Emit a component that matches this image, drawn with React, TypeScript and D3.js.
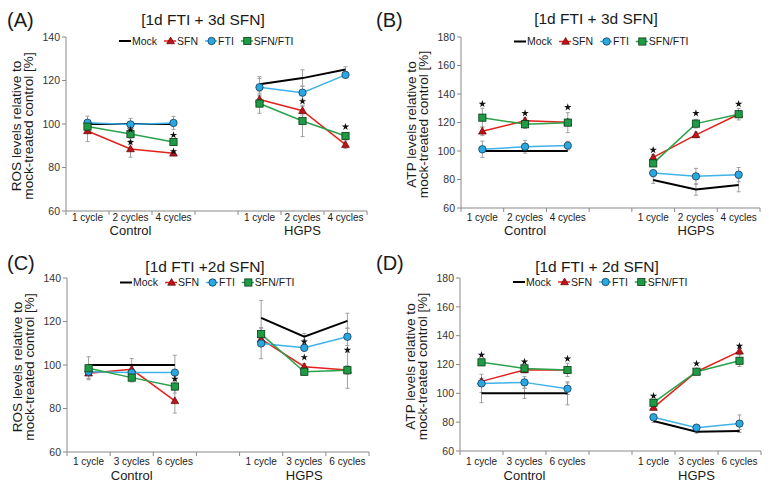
import React from "react";
import * as d3 from "d3";

// ---------- data ----------
const groups = ["Control", "HGPS"];
const cyclesAB = ["1 cycle", "2 cycles", "4 cycles"];
const cyclesCD = ["1 cycle", "3 cycles", "6 cycles"];
const seriesNames = ["Mock", "SFN", "FTI", "SFN/FTI"];
const titles = ["[1d FTI + 3d SFN]", "[1d FTI + 3d SFN]", "[1d FTI +2d SFN]", "[1d FTI + 2d SFN]"];
const panelLabels = ["(A)", "(B)", "(C)", "(D)"];
const yTitleROS = ["ROS levels relative to", "mock-treated control [%]"];
const yTitleATP = ["ATP levels relative to", "mock-treated control [%]"];
const yTicksROS = [60, 80, 100, 120, 140];
const yTicksATP = [60, 80, 100, 120, 140, 160, 180];

// values: Control (3 points) then HGPS (3 points)
const A_mock = [100, 100, 100, 118.3, 121.1, 125.1];
const A_sfn = [96.8, 88.5, 86.5, 111.3, 106.1, 90.5];
const A_fti = [100.6, 99.8, 100.5, 116.9, 114.4, 122.6];
const A_combo = [98.8, 95.4, 91.7, 109.4, 101.4, 94.5];
const A_mock_err = [0, 0, 0, 3.5, 3.8, 1.2];
const A_sfn_err = [4.9, 3.8, 1, 2, 2, 1.7];
const A_fti_err = [3, 2.8, 3, 4, 3, 1.5];
const A_combo_err = [2.5, 2, 1.5, 4.5, 7.2, 1.5];
const A_stars = [[1, 97.4], [1, 91.6], [2, 94.9], [2, 87.4], [4, 110.4], [5, 98.7]];

const B_mock = [100, 100, 100, 79.6, 73, 76.1];
const B_sfn = [113.8, 121.3, 120.2, 95.5, 111.3, 125.8];
const B_fti = [101.2, 103, 103.8, 84.5, 82.2, 83.4];
const B_combo = [123.4, 118.8, 119.9, 91.3, 119.2, 125.8];
const B_mock_err = [0, 0, 0, 2.3, 4, 4.7];
const B_sfn_err = [3, 2, 2, 2, 2, 2];
const B_fti_err = [5.7, 4.5, 3, 2, 5.6, 5];
const B_combo_err = [6.6, 3, 7, 2, 3, 4];
const B_stars = [[0, 133], [1, 126.5], [2, 130.7], [3, 100.7], [4, 126.5], [5, 133]];

const C_mock = [100, 100, 100, 121.7, 113, 120.3];
const C_sfn = [96.2, 98, 83.5, 111.9, 99.2, 97.7];
const C_fti = [96.9, 96.5, 96.5, 109.9, 107.9, 113];
const C_combo = [98.5, 94.2, 90.1, 114.2, 96.9, 97.6];
const C_mock_err = [0, 0, 0, 8, 1.5, 3.5];
const C_sfn_err = [2.5, 5, 5.6, 2, 1.5, 2];
const C_fti_err = [3, 3, 8, 7, 1.5, 4];
const C_combo_err = [5.3, 2, 3, 3, 1.5, 8.3];
const C_stars = [[2, 93.6], [4, 110.7], [4, 103.5], [5, 106.9]];

const D_mock = [100, 100, 100, 80.8, 73.4, 73.9];
const D_sfn = [108.3, 116.2, 116.2, 90.1, 115, 129.1];
const D_fti = [106.9, 107.6, 103.2, 83.4, 76.2, 79];
const D_combo = [121.5, 117.3, 116.2, 93.5, 115, 122.6];
const D_mock_err = [6.5, 3.5, 8, 1, 1, 1];
const D_sfn_err = [2, 2, 2, 1.5, 2, 2];
const D_fti_err = [6.3, 4, 4, 2, 1.5, 6];
const D_combo_err = [2, 2, 4.6, 2, 2, 4];
const D_stars = [[0, 126.6], [1, 121.9], [2, 124], [3, 98.2], [4, 120.6], [5, 132.8]];

// ---------- styles / layout ----------
const FONT = "'Liberation Sans', Arial, Helvetica, sans-serif";
const AXIS = "#8a8a8a";
const TEXT = "#1a1a1a";
const styles = [
  { line: "#000000", width: 2, marker: null, fill: "", stroke: "" },
  { line: "#e3211c", width: 1.5, marker: "triangle", fill: "#c0121a", stroke: "#5a0000" },
  { line: "#3fb3e8", width: 1.5, marker: "circle", fill: "#2aa8e0", stroke: "#163a5c" },
  { line: "#2aa24a", width: 1.5, marker: "square", fill: "#1f9a45", stroke: "#0b3d1a" },
];

const panels = [
  { left: 66, right: 367, top: 37, bottom: 211, ymax: 140, yTicks: yTicksROS, yTitle: yTitleROS, cycles: cyclesAB,
    values: [A_mock, A_sfn, A_fti, A_combo], errs: [A_mock_err, A_sfn_err, A_fti_err, A_combo_err], stars: A_stars,
    titleX: 203, titleY: 25, labelX: 7, labelY: 27, tickY: 221, groupY: 235, legendY: 41 },
  { left: 461, right: 760, top: 37, bottom: 208, ymax: 180, yTicks: yTicksATP, yTitle: yTitleATP, cycles: cyclesAB,
    values: [B_mock, B_sfn, B_fti, B_combo], errs: [B_mock_err, B_sfn_err, B_fti_err, B_combo_err], stars: B_stars,
    titleX: 596, titleY: 24, labelX: 376, labelY: 27, tickY: 221, groupY: 235, legendY: 41.5 },
  { left: 67, right: 369, top: 278, bottom: 452, ymax: 140, yTicks: yTicksROS, yTitle: yTitleROS, cycles: cyclesCD,
    values: [C_mock, C_sfn, C_fti, C_combo], errs: [C_mock_err, C_sfn_err, C_fti_err, C_combo_err], stars: C_stars,
    titleX: 205, titleY: 272, labelX: 7, labelY: 270, tickY: 464.5, groupY: 480, legendY: 282.5 },
  { left: 460, right: 761, top: 278, bottom: 451, ymax: 180, yTicks: yTicksATP, yTitle: yTitleATP, cycles: cyclesCD,
    values: [D_mock, D_sfn, D_fti, D_combo], errs: [D_mock_err, D_sfn_err, D_fti_err, D_combo_err], stars: D_stars,
    titleX: 597, titleY: 272, labelX: 376, labelY: 270, tickY: 464.5, groupY: 480, legendY: 282 },
];

const slotOf = (i: number) => (i < 3 ? i : i + 1);

function Marker({ kind, x, y, fill, stroke }: any) {
  if (!kind) return null;
  if (kind === "circle") return <circle cx={x} cy={y} r={3.7} fill={fill} stroke={stroke} strokeWidth={0.8} />;
  if (kind === "square") return <rect x={x - 3.6} y={y - 3.6} width={7.2} height={7.2} fill={fill} stroke={stroke} strokeWidth={0.8} />;
  const p = d3.symbol(d3.symbolTriangle, 26)();
  return <path d={p as string} transform={`translate(${x},${y + 0.5})`} fill={fill} stroke={stroke} strokeWidth={0.7} />;
}

const starPath = d3.symbol(d3.symbolStar, 17)() as string;

// legend text widths (em) for Liberation Sans
const legendEm = [2.389, 2.0, 1.5, 3.778];

function Panel({ p, idx }: any) {
  const x = d3.scaleBand<number>().domain(d3.range(7)).range([p.left, p.right]).padding(0);
  const y = d3.scaleLinear().domain([60, p.ymax]).range([p.bottom, p.top]);
  const bw = x.bandwidth();
  const cx = (i: number) => (x(slotOf(i)) as number) + bw / 2;
  const line = d3.line<[number, number]>().x((d) => d[0]).y((d) => d[1]);
  const midY = (p.top + p.bottom) / 2;

  const lfs = 10.5;
  let lx = p.left + 53;
  const legendItems = seriesNames.map((name, k) => {
    const start = lx;
    const w = legendEm[k] * lfs;
    lx = start + 13 + w + 7;
    return { name, start, k };
  });

  return (
    <g>
      <text x={p.labelX} y={p.labelY} fontSize={20} fill={TEXT}>{panelLabels[idx]}</text>
      <text x={p.titleX} y={p.titleY} fontSize={15.5} textAnchor="middle" fill={TEXT}>{titles[idx]}</text>
      {p.yTitle.map((t: string, k: number) => (
        <text key={k} transform={`translate(${p.left - 45 + k * 12},${midY + 2}) rotate(-90)`} fontSize={13.6}
          textAnchor="middle" fill={TEXT}>{t}</text>
      ))}
      <line x1={p.left} x2={p.left} y1={p.top} y2={p.bottom} stroke={AXIS} strokeWidth={1} />
      <line x1={p.left} x2={p.right} y1={p.bottom} y2={p.bottom} stroke={AXIS} strokeWidth={1} />
      {p.yTicks.map((t: number) => (
        <g key={t}>
          <line x1={p.left - 4} x2={p.left} y1={y(t)} y2={y(t)} stroke={AXIS} />
          <text x={p.left - 6} y={y(t) + 3.7} fontSize={10.5} textAnchor="end" fill="#333">{t}</text>
        </g>
      ))}
      {d3.range(8).map((k) => {
        const xx = p.left + k * bw;
        return <line key={k} x1={xx} x2={xx} y1={p.bottom} y2={p.bottom + 4} stroke={AXIS} />;
      })}
      {d3.range(6).map((i) => (
        <text key={i} x={cx(i)} y={p.tickY} fontSize={10} textAnchor="middle" fill={TEXT}>{p.cycles[i % 3]}</text>
      ))}
      {groups.map((g, k) => (
        <text key={g} x={cx(k * 3 + 1)} y={p.groupY} fontSize={13} textAnchor="middle" fill={TEXT}>{g}</text>
      ))}
      {p.values.map((vals: number[], s: number) =>
        vals.map((v, i) => {
          const e = p.errs[s][i];
          if (!e) return null;
          const xx = cx(i);
          return (
            <g key={`e${s}-${i}`} stroke="#a0a0a0" strokeWidth={1}>
              <line x1={xx} x2={xx} y1={y(v - e)} y2={y(v + e)} />
              <line x1={xx - 2} x2={xx + 2} y1={y(v - e)} y2={y(v - e)} />
              <line x1={xx - 2} x2={xx + 2} y1={y(v + e)} y2={y(v + e)} />
            </g>
          );
        })
      )}
      {p.values.map((vals: number[], s: number) => {
        const st = styles[s];
        return (
          <g key={`s${s}`}>
            {[0, 1].map((g) => {
              const pts: [number, number][] = [0, 1, 2].map((j) => [cx(g * 3 + j), y(vals[g * 3 + j])]);
              return <path key={g} d={line(pts) as string} fill="none" stroke={st.line} strokeWidth={st.width} />;
            })}
            {vals.map((v, i) => (
              <Marker key={i} kind={st.marker} x={cx(i)} y={y(v)} fill={st.fill} stroke={st.stroke} />
            ))}
          </g>
        );
      })}
      {p.stars.map((s: number[], k: number) => (
        <path key={`st${k}`} d={starPath} transform={`translate(${cx(s[0])},${y(s[1])})`} fill="#111" />
      ))}
      {legendItems.map(({ name, start, k }) => {
        const st = styles[k];
        return (
          <g key={name}>
            <line x1={start} x2={start + 12} y1={p.legendY} y2={p.legendY} stroke={st.line} strokeWidth={st.width} />
            <Marker kind={st.marker} x={start + 6.5} y={p.legendY} fill={st.fill} stroke={st.stroke} />
            <text x={start + 13} y={p.legendY + 3.8} fontSize={lfs} fill={TEXT}>{name}</text>
          </g>
        );
      })}
    </g>
  );
}

export default function App() {
  return (
    <svg width={769} height={492} style={{ position: "absolute", left: 0, top: 0, background: "#fff" }}
      fontFamily={FONT}>
      <rect width={769} height={492} fill="#fff" />
      {panels.map((p, i) => (
        <Panel key={i} p={p} idx={i} />
      ))}
    </svg>
  );
}
